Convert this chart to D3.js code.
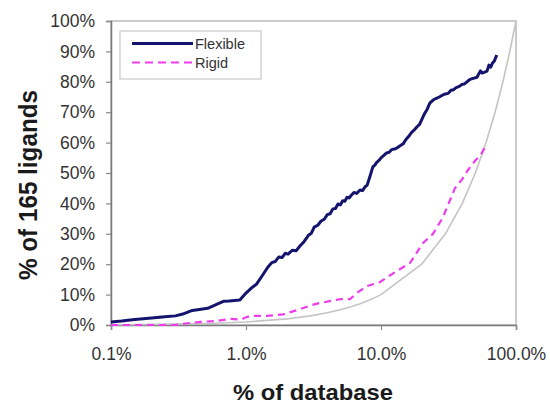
<!DOCTYPE html>
<html>
<head>
<meta charset="utf-8">
<script src="https://cdn.jsdelivr.net/npm/d3@7"></script>
<style>
  html, body { margin: 0; padding: 0; background: #fff; }
  svg { display: block; font-family: "Liberation Sans", Arial, sans-serif; }
</style>
</head>
<body>
<svg id="chart" width="550" height="404"></svg>
<script>
// Cumulative share of ligands recovered vs. share of database screened
const seriesNames = ["Flexible", "Rigid"];

const flexibleX = [0.1, 0.12, 0.15, 0.2, 0.25, 0.3, 0.34, 0.4, 0.45, 0.52, 0.6, 0.68, 0.75, 0.9,
  1.0, 1.1, 1.2, 1.3, 1.45, 1.55, 1.65, 1.75, 1.85, 1.95, 2.05, 2.2, 2.35, 2.5, 2.7, 2.9, 3.05, 3.2,
  3.4, 3.6, 3.8, 4.0, 4.2, 4.4, 4.6, 4.8, 5.0, 5.2, 5.4, 5.6, 5.8, 6.0, 6.3, 6.6, 7.0, 7.3, 7.6, 7.9,
  8.3, 8.7, 9.0, 9.3, 9.7, 10.0, 10.5, 11.0, 11.5, 12.0, 12.8, 13.5, 14.6, 15.3, 16.0, 16.8,
  17.5, 18.5, 19.3, 20.0, 21.0, 22.0, 23.0, 24.3, 25.5, 27.0, 28.5, 30.0, 31.5, 33.0, 34.5, 36.0,
  38.0, 40.0, 41.5, 43.3, 45.0, 47.0, 49.0, 51.4, 53.0, 54.5, 56.0, 58.0, 61.0, 63.0, 65.0, 67.0,
  69.0, 72.0];
const flexibleY = [1.0, 1.3, 1.8, 2.3, 2.7, 3.0, 3.6, 4.8, 5.1, 5.5, 6.7, 7.8, 7.9, 8.2,
  10.5, 12.2, 13.5, 15.8, 19.0, 20.5, 20.9, 22.4, 22.2, 23.6, 23.3, 24.6, 24.4, 25.9, 27.5, 29.5, 30.2, 32.2,
  32.8, 34.2, 34.8, 36.3, 36.6, 38.2, 38.3, 39.8, 39.5, 40.9, 40.7, 42.0, 41.8, 42.6, 43.6, 43.3, 44.4, 44.2, 45.4, 46.0,
  49.0, 52.0, 52.6, 53.5, 54.2, 55.0, 55.8, 56.6, 56.8, 57.7, 58.0, 58.6, 59.6, 61.0, 62.0, 63.3,
  64.0, 65.2, 66.0, 67.5, 69.5, 71.0, 73.0, 74.0, 74.5, 75.0, 75.6, 76.0, 76.2, 77.2, 77.4, 78.1,
  78.5, 79.2, 79.3, 80.0, 80.6, 81.0, 81.2, 81.5, 82.6, 83.6, 82.9, 83.1, 83.5, 85.5, 84.8, 86.2,
  86.8, 88.8];

const rigidX = [0.1, 0.3, 0.32, 0.46, 0.62, 0.77, 0.92, 1.02, 1.17, 1.43, 1.88, 2.4, 3.1, 3.5,
  5.0, 5.9, 6.6, 7.9, 9.8, 12.3, 16.4, 20.5, 24.3, 28.8, 32.4, 35.3, 40.0, 44.1, 49.7, 55.0, 58.9];
const rigidY = [0, 0, 0.3, 1.0, 1.4, 2.0, 1.8, 2.7, 3.0, 3.0, 3.5, 4.9, 6.6, 7.2,
  8.5, 8.5, 10.5, 12.8, 14.1, 17.0, 20.4, 27.0, 30.0, 35.5, 41.0, 45.0, 48.0, 51.0, 54.0, 56.0, 58.5];

// Random-selection reference: hit rate equals screened fraction
const baselineX = [0.1, 0.2, 0.5, 1, 2, 3, 4, 5, 6, 7, 8, 9, 10, 20, 30, 40, 50, 60, 70, 80, 90, 100];
const baselineY = [0.1, 0.2, 0.5, 1, 2, 3, 4, 5, 6, 7, 8, 9, 10, 20, 30, 40, 50, 60, 70, 80, 90, 100];

const yTicks = [0, 10, 20, 30, 40, 50, 60, 70, 80, 90, 100];
const yTickLabels = ["0%", "10%", "20%", "30%", "40%", "50%", "60%", "70%", "80%", "90%", "100%"];
const xTicks = [0.1, 1, 10, 100];
const xTickLabels = ["0.1%", "1.0%", "10.0%", "100.0%"];

const svg = d3.select("#chart");
const plot = { left: 111, right: 516, top: 21, bottom: 325 };

const x = d3.scaleLog().domain([0.1, 100]).range([plot.left, plot.right]);
const y = d3.scaleLinear().domain([0, 100]).range([plot.bottom, plot.top]);

// Plot frame
svg.append("rect")
  .attr("x", plot.left).attr("y", plot.top)
  .attr("width", plot.right - plot.left).attr("height", plot.bottom - plot.top)
  .attr("fill", "#fff").attr("stroke", "#a8a8a8").attr("stroke-width", 1.2);

// Axes
const yAxis = d3.axisLeft(y).tickValues(yTicks)
  .tickFormat((d, i) => yTickLabels[i]).tickSizeOuter(0).tickSize(5).tickPadding(11);
const gy = svg.append("g").attr("transform", `translate(${plot.left},0)`).call(yAxis);

const xAxis = d3.axisBottom(x).tickValues(xTicks)
  .tickFormat((d, i) => xTickLabels[i]).tickSizeOuter(0).tickSize(5).tickPadding(18);
const gx = svg.append("g").attr("transform", `translate(0,${plot.bottom})`).call(xAxis);

[gx, gy].forEach(g => {
  g.select(".domain").attr("stroke", "#7a7a7a").attr("stroke-width", 1.5);
  g.selectAll(".tick line").attr("stroke", "#8a8a8a").attr("stroke-width", 1.2);
  g.selectAll(".tick text").attr("fill", "#333")
    .style("font-size", "17.5px").style("font-family", "'Liberation Sans', Arial, sans-serif");
});

// Series lines
const line = d3.line().x(d => x(d[0])).y(d => y(d[1]));
const zip = (xs, ys) => xs.map((v, i) => [v, ys[i]]);

svg.append("path").datum(zip(baselineX, baselineY))
  .attr("d", line).attr("fill", "none")
  .attr("stroke", "#c4c4c4").attr("stroke-width", 1.6);

svg.append("path").datum(zip(rigidX, rigidY))
  .attr("d", line).attr("fill", "none")
  .attr("stroke", "#ee3cee").attr("stroke-width", 2.2)
  .attr("stroke-dasharray", "7,5");

svg.append("path").datum(zip(flexibleX, flexibleY))
  .attr("d", line).attr("fill", "none")
  .attr("stroke", "#14146e").attr("stroke-width", 3)
  .attr("stroke-linejoin", "round");

// Legend
const legend = svg.append("g");
legend.append("rect")
  .attr("x", 120).attr("y", 31).attr("width", 141).attr("height", 48)
  .attr("fill", "#fff").attr("stroke", "#bdbdbd").attr("stroke-width", 1);
const legendStyles = [
  { color: "#14146e", width: 3, dash: null },
  { color: "#ee3cee", width: 2.2, dash: "8,5" }
];
seriesNames.forEach((name, i) => {
  const ly = 43.5 + i * 19;
  legend.append("line")
    .attr("x1", 132).attr("x2", 193).attr("y1", ly).attr("y2", ly)
    .attr("stroke", legendStyles[i].color).attr("stroke-width", legendStyles[i].width)
    .attr("stroke-dasharray", legendStyles[i].dash);
  legend.append("text")
    .attr("x", 195).attr("y", ly + 5)
    .attr("fill", "#333").style("font-size", "14.5px")
    .text(name);
});

// Axis titles
svg.append("text")
  .attr("x", 313).attr("y", 400)
  .attr("text-anchor", "middle")
  .attr("textLength", 160).attr("lengthAdjust", "spacingAndGlyphs")
  .style("font-size", "22px").style("font-weight", "bold").attr("fill", "#1a1a1a")
  .text("% of database");

svg.append("text")
  .attr("transform", "translate(37,185) rotate(-90)")
  .attr("text-anchor", "middle")
  .attr("textLength", 190).attr("lengthAdjust", "spacingAndGlyphs")
  .style("font-size", "25px").style("font-weight", "bold").attr("fill", "#1a1a1a")
  .text("% of 165 ligands");
</script>
</body>
</html>
